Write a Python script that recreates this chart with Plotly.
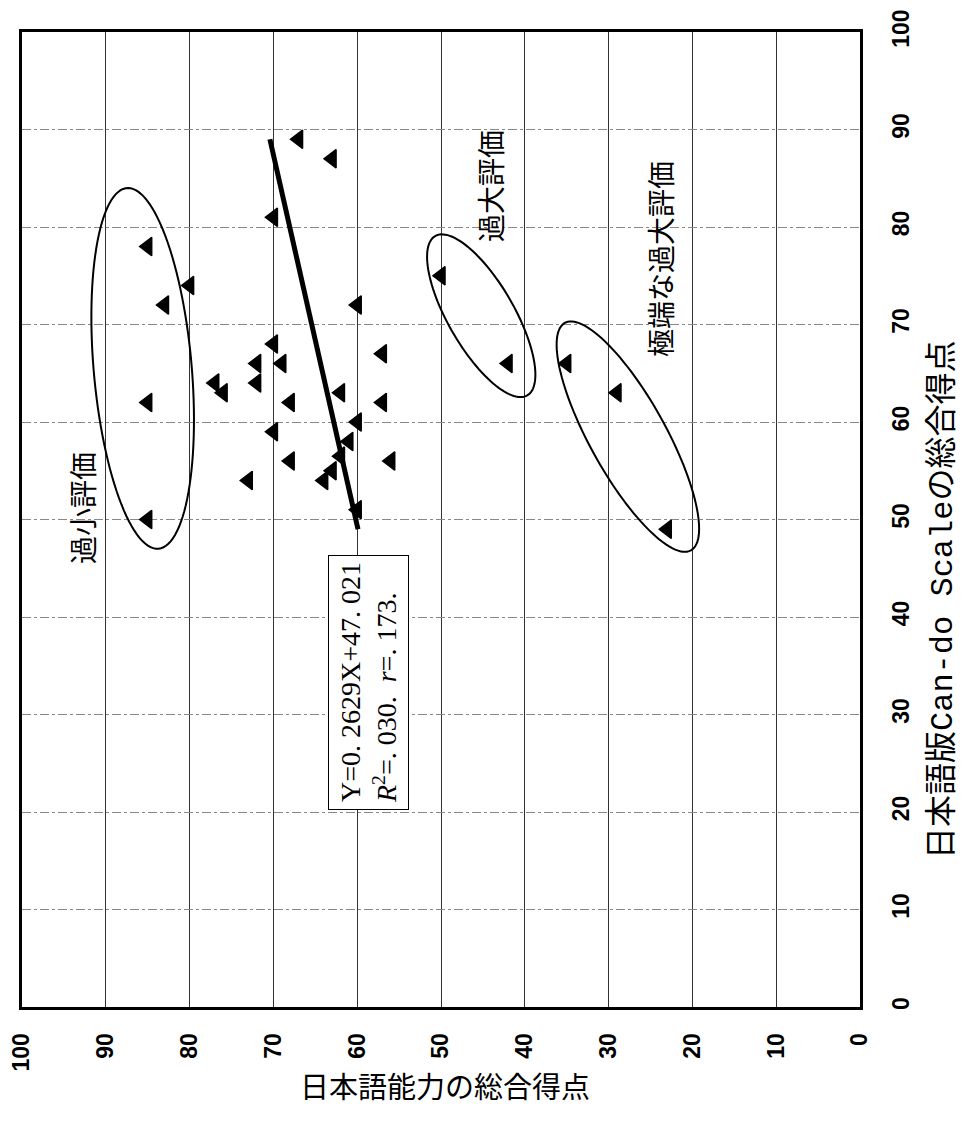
import numpy as np
import plotly.graph_objects as go

# ---------------- data ----------------
japanese_score = [85, 80, 83, 85, 85, 70, 67, 63, 60, 50, 70, 72, 69, 77, 76, 72, 68,
                  70, 68, 73, 57, 62, 57, 60, 61, 62, 63, 64, 56, 60, 42, 35, 29, 23]
cando_score = [78, 74, 72, 62, 50, 81, 89, 87, 72, 75, 68, 66, 66, 64, 63, 64, 62,
               59, 56, 54, 67, 63, 62, 60, 58, 56.5, 55, 54, 56, 51, 66, 66, 63, 49]
tick_values = [0, 10, 20, 30, 40, 50, 60, 70, 80, 90, 100]
tick_labels = ["0", "10", "20", "30", "40", "50", "60", "70", "80", "90", "100"]
reg_slope = 0.2629
reg_intercept = 47.021
reg_cando_range = [49, 89]

# ellipses: center (japanese, cando), semi-axes (px), tilt from vertical (deg)
ellipse_labels = ["過小評価", "過大評価", "極端な過大評価"]
ellipse_centers = [(85.6, 65.5), (45.2, 70.9), (27.7, 58.5)]
ellipse_axes = [(181, 49), (92, 33), (130, 38)]
ellipse_tilts = [5, 30, 29]

# ---------------- layout constants ----------------
OFF = 8  # page body margin
W, H = 966 - OFF, 1129 - OFF
ML, MR, MT, MB = 22 - OFF, 106, 32 - OFF, 122
ppx = (W - ML - MR) / 100.0
ppy = (H - MT - MB) / 100.0


def to_j(px):
    return 100 - (px - 22) / ppx


def to_c(py):
    return (1007 - py) / ppy


fig = go.Figure()

fig.add_trace(go.Scatter(
    x=japanese_score, y=cando_score, mode="markers",
    marker=dict(symbol="triangle-left", size=16, color="black",
                line=dict(color="black", width=1.5)),
    showlegend=False, hoverinfo="x+y"))

reg_c = np.array(reg_cando_range, dtype=float)
reg_j = reg_slope * reg_c + reg_intercept
fig.add_trace(go.Scatter(x=reg_j, y=reg_c, mode="lines",
                         line=dict(color="black", width=5), showlegend=False))

shapes = []
for (jc, cc), (a, b), th in zip(ellipse_centers, ellipse_axes, ellipse_tilts):
    t = np.linspace(0, 2 * np.pi, 120)
    r = np.radians(th)
    ux, uy = np.sin(r), np.cos(r)
    vx, vy = np.cos(r), -np.sin(r)
    dx = a * np.cos(t) * ux + b * np.sin(t) * vx
    dy = a * np.cos(t) * uy + b * np.sin(t) * vy
    xs = jc - dx / ppx
    ys = cc - dy / ppy
    path = "M " + " L ".join(f"{x:.3f},{y:.3f}" for x, y in zip(xs, ys)) + " Z"
    shapes.append(dict(type="path", xref="x", yref="y", path=path,
                       line=dict(color="black", width=2), fillcolor="rgba(0,0,0,0)"))

cjk = "Noto Sans CJK JP"
annotations = [
    dict(x=to_j(82), y=to_c(508), text=ellipse_labels[0],
         textangle=-90, showarrow=False, font=dict(family=cjk, size=28, color="black")),
    dict(x=to_j(490), y=to_c(186), text=ellipse_labels[1],
         textangle=-90, showarrow=False, font=dict(family=cjk, size=28, color="black")),
    dict(x=to_j(660), y=to_c(259), text=ellipse_labels[2],
         textangle=-90, showarrow=False, font=dict(family=cjk, size=28, color="black")),
    dict(x=to_j(368), y=to_c(683),
         text="Y=0. 2629X+47. 021<br><i>R</i><sup>2</sup>=. 030.  <i>r</i>=. 173.",
         textangle=-90, showarrow=False, align="left",
         font=dict(family="Liberation Serif", size=28, color="black"),
         bordercolor="black", borderwidth=1, borderpad=6, bgcolor="white"),
    dict(xref="paper", yref="y", x=1, xanchor="center", xshift=943 - 860,
         y=to_c(600), text="日本語版Can-do Scaleの総合得点", textangle=-90,
         showarrow=False,
         font=dict(family="Liberation Mono, " + cjk, size=32, color="black")),
    dict(xref="x", yref="paper", x=to_j(445), y=0, yanchor="middle",
         yshift=-(1085 - 1007), text="日本語能力の総合得点", showarrow=False,
         font=dict(family=cjk, size=29, color="black")),
]

tickfont = dict(family="Liberation Sans", size=23, color="black", weight="bold")

fig.update_layout(
    width=W, height=H, margin=dict(l=ML, r=MR, t=MT, b=MB, autoexpand=False),
    paper_bgcolor="white", plot_bgcolor="white",
    shapes=shapes, annotations=annotations,
    xaxis=dict(range=[100, 0], tickvals=tick_values, ticktext=tick_labels,
               tickangle=-90, showgrid=True, gridcolor="#333", gridwidth=1,
               showline=True, linecolor="black", linewidth=3, mirror=True,
               zeroline=False, ticks="", ticklabelstandoff=14, tickfont=tickfont,
               automargin=False),
    yaxis=dict(range=[0, 100], tickvals=tick_values, ticktext=tick_labels,
               side="right", tickangle=-90, showgrid=True, gridcolor="#888",
               gridwidth=1, griddash="dashdot",
               showline=True, linecolor="black", linewidth=3, mirror=True,
               zeroline=False, ticks="", ticklabelstandoff=18, tickfont=tickfont,
               automargin=False),
)

fig.write_html("out.html")
